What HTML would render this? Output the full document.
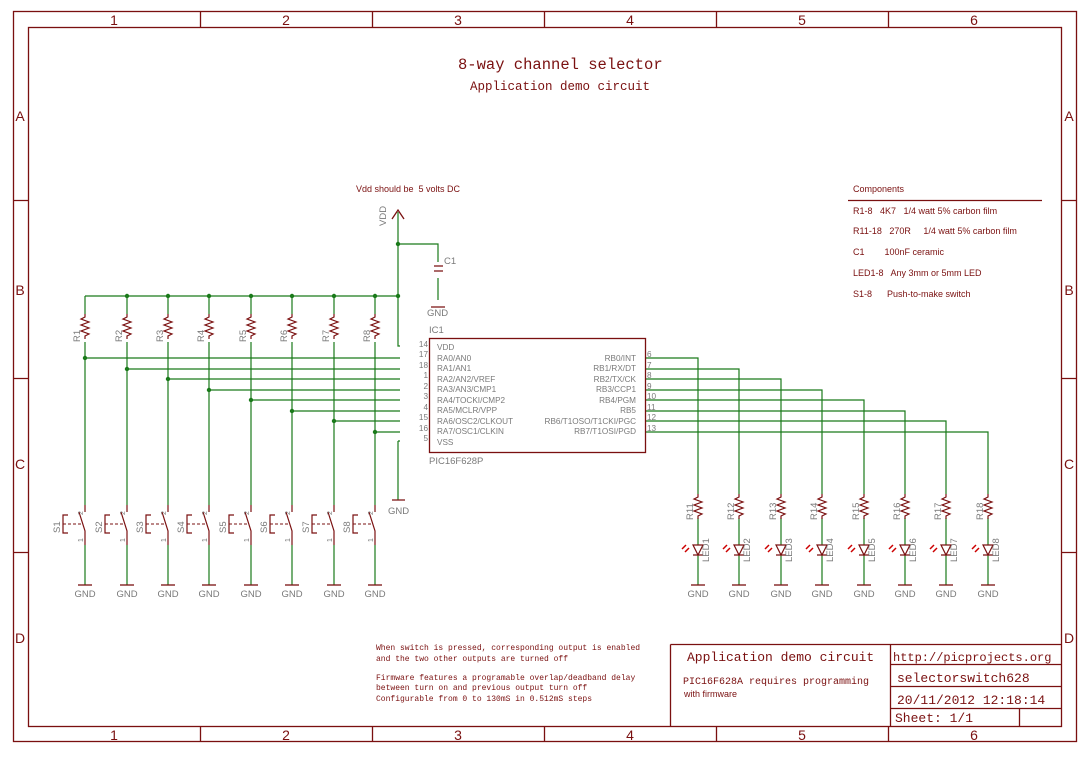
<!DOCTYPE html>
<html><head><meta charset="utf-8"><style>
html,body{margin:0;padding:0;background:#fff;}
svg{display:block;font-family:"Liberation Sans",sans-serif;}
text{white-space:pre;}
</style></head><body>
<svg width="1086" height="773" viewBox="0 0 1086 773" xmlns="http://www.w3.org/2000/svg" xml:space="preserve">
<g fill="none" stroke="#7a1010" stroke-width="1.3">
<rect x="13.5" y="11.5" width="1063" height="730"/>
<rect x="28.5" y="27.5" width="1033" height="699"/>
<path d="M200.5 11.5V27.5M372.5 11.5V27.5M544.5 11.5V27.5M716.5 11.5V27.5M888.5 11.5V27.5"/>
<path d="M200.5 726.5V741.5M372.5 726.5V741.5M544.5 726.5V741.5M716.5 726.5V741.5M888.5 726.5V741.5"/>
<path d="M13.5 200.5H28.5M13.5 378.5H28.5M13.5 552.5H28.5M1061.5 200.5H1076.5M1061.5 378.5H1076.5M1061.5 552.5H1076.5"/>
<path d="M670.5 644.5H1061.5M670.5 644.5V726.5M890.5 644.5V726.5M890.5 664.5H1061.5M890.5 686.5H1061.5M890.5 708.5H1061.5M1019.5 708.5V726.5"/>
<path d="M848 200.5H1042"/>
</g>
<g fill="#7a1010" font-size="14" text-anchor="middle">
<text x="114" y="25">1</text><text x="286" y="25">2</text><text x="458" y="25">3</text><text x="630" y="25">4</text><text x="802" y="25">5</text><text x="974" y="25">6</text>
<text x="114" y="740">1</text><text x="286" y="740">2</text><text x="458" y="740">3</text><text x="630" y="740">4</text><text x="802" y="740">5</text><text x="974" y="740">6</text>
<text x="20" y="121">A</text><text x="20" y="295">B</text><text x="20" y="469">C</text><text x="20" y="643">D</text>
<text x="1069" y="121">A</text><text x="1069" y="295">B</text><text x="1069" y="469">C</text><text x="1069" y="643">D</text>
</g>
<g fill="#7a1010" font-family="'Liberation Mono',monospace">
<text x="458" y="69" font-size="15.5">8-way channel selector</text>
<text x="470" y="90" font-size="12.5">Application demo circuit</text>
<text x="687" y="661" font-size="13">Application demo circuit</text>
<text x="683" y="684" font-size="10">PIC16F628A requires programming</text>
<text x="893" y="661" font-size="12">http://picprojects.org</text>
<text x="897" y="682" font-size="13">selectorswitch628</text>
<text x="897" y="704" font-size="13">20/11/2012 12:18:14</text>
<text x="895" y="722" font-size="13">Sheet: 1/1</text>
<g font-size="8">
<text x="376" y="650">When switch is pressed, corresponding output is enabled</text>
<text x="376" y="661">and the two other outputs are turned off</text>
<text x="376" y="680">Firmware features a programable overlap/deadband delay</text>
<text x="376" y="690">between turn on and previous output turn off</text>
<text x="376" y="701">Configurable from 0 to 130mS in 0.512mS steps</text>
</g>
</g>
<g fill="#7a1010" font-size="9">
<text x="684" y="697">with firmware</text>
<text x="356" y="192">Vdd should be  5 volts DC</text>
<text x="853" y="192">Components</text>
<text x="853" y="214">R1-8   4K7   1/4 watt 5% carbon film</text>
<text x="853" y="234">R11-18   270R     1/4 watt 5% carbon film</text>
<text x="853" y="255">C1        100nF ceramic</text>
<text x="853" y="276">LED1-8   Any 3mm or 5mm LED</text>
<text x="853" y="297">S1-8      Push-to-make switch</text>
</g>
<g fill="none" stroke="#1a7a1a" stroke-width="1.2">
<path d="M85 296H398M398 212V346H400M398 244H438V262M438 278V300"/>
<path d="M398 441H400M398 441V500"/>
</g>
<g id="left"></g>
<g id="right"></g>
<g fill="#7a7a7a" font-size="9.5">
<text x="429" y="333">IC1</text>
<text x="429" y="464">PIC16F628P</text>
<text x="444" y="264">C1</text>
<text x="427" y="316">GND</text>
<text x="388" y="514">GND</text>
<text transform="translate(386,226) rotate(-90)">VDD</text>
</g>
<g fill="none" stroke="#7a1010" stroke-width="1.3">
<rect x="429.5" y="338.5" width="216" height="114"/>
<path d="M434 266H443M434 271H443M431 307H445M392 500H405M392 219L398 210L404 219"/>
</g>
<g fill="#7a7a7a" font-size="8.2">
<text x="437" y="350">VDD</text><text x="437" y="361">RA0/AN0</text><text x="437" y="371">RA1/AN1</text><text x="437" y="382">RA2/AN2/VREF</text><text x="437" y="392">RA3/AN3/CMP1</text><text x="437" y="403">RA4/TOCKI/CMP2</text><text x="437" y="413">RA5/MCLR/VPP</text><text x="437" y="424">RA6/OSC2/CLKOUT</text><text x="437" y="434">RA7/OSC1/CLKIN</text><text x="437" y="445">VSS</text>
<g text-anchor="end"><text x="636" y="361">RB0/INT</text><text x="636" y="371">RB1/RX/DT</text><text x="636" y="382">RB2/TX/CK</text><text x="636" y="392">RB3/CCP1</text><text x="636" y="403">RB4/PGM</text><text x="636" y="413">RB5</text><text x="636" y="424">RB6/T1OSO/T1CKI/PGC</text><text x="636" y="434">RB7/T1OSI/PGD</text>
<text x="428" y="347">14</text><text x="428" y="357">17</text><text x="428" y="368">18</text><text x="428" y="378">1</text><text x="428" y="389">2</text><text x="428" y="399">3</text><text x="428" y="410">4</text><text x="428" y="420">15</text><text x="428" y="431">16</text><text x="428" y="441">5</text></g>
<text x="647" y="357">6</text><text x="647" y="368">7</text><text x="647" y="378">8</text><text x="647" y="389">9</text><text x="647" y="399">10</text><text x="647" y="410">11</text><text x="647" y="420">12</text><text x="647" y="431">13</text>
</g>
<script>
var NS="http://www.w3.org/2000/svg";
function el(p,t,a,txt){var e=document.createElementNS(NS,t);for(var k in a)e.setAttribute(k,a[k]);if(txt)e.textContent=txt;p.appendChild(e);return e;}
var L=document.getElementById('left'),R=document.getElementById('right');
var xs=[85,127,168,209,251,292,334,375],ys=[358,369,379,390,400,411,421,432];
var G="#1a7a1a",M="#7a1010",T="#7a7a7a";
function zig(p,x,y){el(p,'path',{d:'M'+x+' '+y+'l0 3l-4 2l8 3l-8 3l8 3l-8 3l8 3l-4 2l0 3',fill:'none',stroke:M,'stroke-width':1.2});}
function gnd(p,x,y){el(p,'path',{d:'M'+(x-7)+' '+y+'H'+(x+7),stroke:M,'stroke-width':1.3});el(p,'text',{x:x,y:y+12,fill:T,'font-size':9.5,'text-anchor':'middle'},'GND');}
for(var i=0;i<8;i++){var x=xs[i],y=ys[i];
 el(L,'path',{d:'M'+x+' 296V314M'+x+' 342V505M'+x+' '+y+'H400M'+x+' 545V585',fill:'none',stroke:G,'stroke-width':1.2});
 if(i>0)el(L,'circle',{cx:x,cy:296,r:2.2,fill:G});
 el(L,'circle',{cx:x,cy:y,r:2.2,fill:G});
 zig(L,x,314);
 el(L,'text',{transform:'translate('+(x-5)+',342) rotate(-90)',fill:T,'font-size':9.5},'R'+(i+1));
 el(L,'path',{d:'M'+x+' 505V512M'+(x-6)+' 512L'+x+' 531V545M'+(x-17)+' 515H'+(x-22)+'V533H'+(x-17),fill:'none',stroke:M,'stroke-width':1.2});
 el(L,'path',{d:'M'+(x-22)+' 524H'+(x-3),fill:'none',stroke:M,'stroke-width':1.1,'stroke-dasharray':'3,2'});
 el(L,'text',{transform:'translate('+(x-25)+',533) rotate(-90)',fill:T,'font-size':9.5},'S'+(i+1));
 el(L,'text',{transform:'translate('+(x-2)+',515) rotate(-90)',fill:T,'font-size':7},'2');
 el(L,'text',{transform:'translate('+(x-2)+',542) rotate(-90)',fill:T,'font-size':7},'1');
 gnd(L,x,585);
 var rx=Math.round(698+i*41.4);
 el(R,'path',{d:'M645 '+y+'H'+rx+'V494M'+rx+' 518V545M'+rx+' 555V585',fill:'none',stroke:G,'stroke-width':1.2});
 zig(R,rx,494);
 el(R,'text',{transform:'translate('+(rx-5)+',520) rotate(-90)',fill:T,'font-size':9.5},'R'+(11+i));
 el(R,'path',{d:'M'+(rx-5)+' 545H'+(rx+5)+'L'+rx+' 555ZM'+(rx-5)+' 555H'+(rx+5),fill:'none',stroke:M,'stroke-width':1.2});
 el(R,'path',{d:'M'+(rx-9)+' 548l-4 4M'+(rx-12)+' 545l-4 4',fill:'none',stroke:'#c00','stroke-width':1.5});
 el(R,'text',{transform:'translate('+(rx+11)+',562) rotate(-90)',fill:T,'font-size':9.5},'LED'+(i+1));
 gnd(R,rx,585);
}
el(L,'circle',{cx:398,cy:296,r:2.2,fill:G});el(L,'circle',{cx:398,cy:244,r:2.2,fill:G});
</script>
</svg>
</body></html>
